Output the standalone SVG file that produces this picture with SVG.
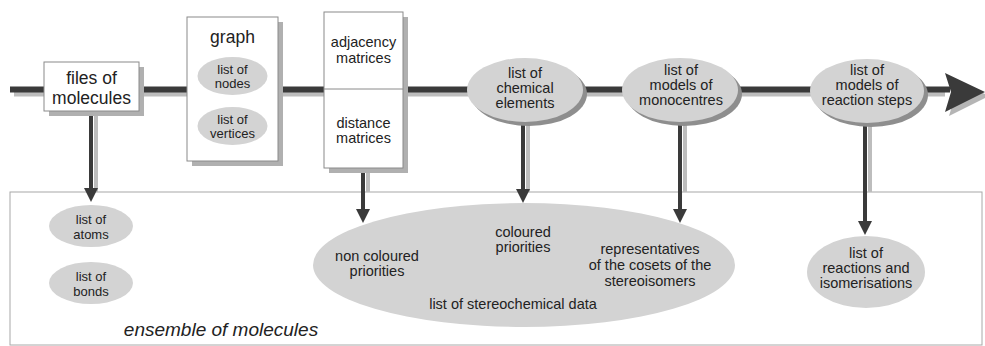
<svg xmlns="http://www.w3.org/2000/svg" width="985" height="346" viewBox="0 0 985 346">
<style>
text{font-family:"Liberation Sans",Arial,sans-serif;fill:#222;text-anchor:middle}
.t{font-size:14.5px}
.s{font-size:13px}
.big{font-size:17.5px}
.box{fill:#fff;stroke:#8a8a8a;stroke-width:1}
.bsh{fill:#b0b0b0}
.ell{fill:#d3d3d3}
.esh{fill:#8e8e8e}
.ln{stroke:#3a3a3a;fill:none}
.lsh{stroke:#bdbdbd;fill:none}
.ah{fill:#3a3a3a}
</style>
<rect width="985" height="346" fill="#fff"/>
<g id="ensemble">
<rect x="10" y="192" width="972" height="153" fill="#fff" stroke="#a8a8a8" stroke-width="1"/>
<text x="221" y="336" style="font-size:19px;font-style:italic">ensemble of molecules</text>
</g>
<g id="connectors">
<line class="lsh" x1="14" y1="94" x2="945" y2="94" stroke-width="5"/>
<line class="ln" x1="10" y1="89.5" x2="950" y2="89.5" stroke-width="6"/>
<polygon points="949,77 989,96 949,116 955,96" fill="#b5b5b5"/>
<polygon class="ah" points="945,73 985,92 945,112 951,92"/>
<line class="lsh" x1="96" y1="111" x2="96" y2="192" stroke-width="4"/>
<line class="ln" x1="91" y1="111" x2="91" y2="190" stroke-width="4"/>
<polygon class="ah" points="84,188 98,188 91,202"/>
<line class="lsh" x1="368" y1="168" x2="368" y2="192" stroke-width="4"/>
<line class="ln" x1="363" y1="168" x2="363" y2="211" stroke-width="4"/>
<polygon class="ah" points="356,209 370,209 363,223"/>
<line class="lsh" x1="528" y1="122" x2="528" y2="192" stroke-width="4"/>
<line class="ln" x1="523" y1="122" x2="523" y2="191" stroke-width="4"/>
<polygon class="ah" points="516,189 530,189 523,203"/>
<line class="lsh" x1="685" y1="122" x2="685" y2="192" stroke-width="4"/>
<line class="ln" x1="680" y1="122" x2="680" y2="211" stroke-width="4"/>
<polygon class="ah" points="673,209 687,209 680,223"/>
<line class="lsh" x1="870" y1="123" x2="870" y2="192" stroke-width="4"/>
<line class="ln" x1="865" y1="123" x2="865" y2="223" stroke-width="4"/>
<polygon class="ah" points="858,221 872,221 865,235"/>
</g>
<g id="files">
<rect class="bsh" x="49" y="67" width="95" height="49"/>
<rect class="box" x="44" y="62" width="95" height="49"/>
<text class="big" x="91.5" y="84">files of</text>
<text class="big" x="91.5" y="104">molecules</text>
</g>
<g id="graph">
<rect class="bsh" x="192" y="22" width="91" height="144"/>
<rect class="box" x="187" y="17" width="91" height="144"/>
<text class="big" x="232.5" y="43">graph</text>
<ellipse class="ell" cx="232.5" cy="76" rx="35" ry="19"/>
<text class="s" x="232.5" y="74">list of</text>
<text class="s" x="232.5" y="88">nodes</text>
<ellipse class="ell" cx="232.5" cy="126" rx="35" ry="19"/>
<text class="s" x="232.5" y="124">list of</text>
<text class="s" x="232.5" y="138">vertices</text>
</g>
<g id="matrices">
<rect class="bsh" x="329" y="17" width="79" height="156"/>
<rect class="box" x="324" y="12" width="79" height="156"/>
<line x1="324" y1="89" x2="403" y2="89" stroke="#8a8a8a" stroke-width="1"/>
<text class="t" x="363.5" y="47">adjacency</text>
<text class="t" x="363.5" y="63">matrices</text>
<text class="t" x="363.5" y="128">distance</text>
<text class="t" x="363.5" y="143">matrices</text>
</g>
<g id="chemical">
<ellipse class="esh" cx="529" cy="94" rx="58" ry="32"/>
<ellipse class="ell" cx="525" cy="90" rx="58" ry="32"/>
<text class="t" x="525" y="78">list of</text>
<text class="t" x="525" y="93">chemical</text>
<text class="t" x="525" y="108">elements</text>
</g>
<g id="monocentres">
<ellipse class="esh" cx="684" cy="94" rx="58" ry="32"/>
<ellipse class="ell" cx="680" cy="90" rx="58" ry="32"/>
<text class="t" x="681" y="75">list of</text>
<text class="t" x="681" y="90">models of</text>
<text class="t" x="681" y="105">monocentres</text>
</g>
<g id="reactionsteps">
<ellipse class="esh" cx="871" cy="95" rx="57" ry="32"/>
<ellipse class="ell" cx="867" cy="91" rx="57" ry="32"/>
<text class="t" x="867" y="75">list of</text>
<text class="t" x="867" y="90">models of</text>
<text class="t" x="867" y="105">reaction steps</text>
</g>
<g id="atoms">
<ellipse class="ell" cx="91" cy="226" rx="42" ry="21"/>
<text class="s" x="91" y="224">list of</text>
<text class="s" x="91" y="239">atoms</text>
</g>
<g id="bonds">
<ellipse class="ell" cx="91" cy="283" rx="42" ry="21"/>
<text class="s" x="91" y="281">list of</text>
<text class="s" x="91" y="296">bonds</text>
</g>
<g id="stereo">
<ellipse class="ell" cx="524" cy="265" rx="211" ry="62"/>
<text class="t" x="377" y="261">non coloured</text>
<text class="t" x="377" y="276">priorities</text>
<text class="t" x="523" y="237">coloured</text>
<text class="t" x="523" y="252">priorities</text>
<text class="t" x="650" y="254">representatives</text>
<text class="t" x="650" y="270">of the cosets of the</text>
<text class="t" x="650" y="286">stereoisomers</text>
<text class="t" x="513" y="309">list of stereochemical data</text>
</g>
<g id="reactions">
<ellipse class="ell" cx="866" cy="272" rx="59" ry="36"/>
<text class="t" x="866" y="258">list of</text>
<text class="t" x="866" y="273">reactions and</text>
<text class="t" x="866" y="288">isomerisations</text>
</g>
</svg>
